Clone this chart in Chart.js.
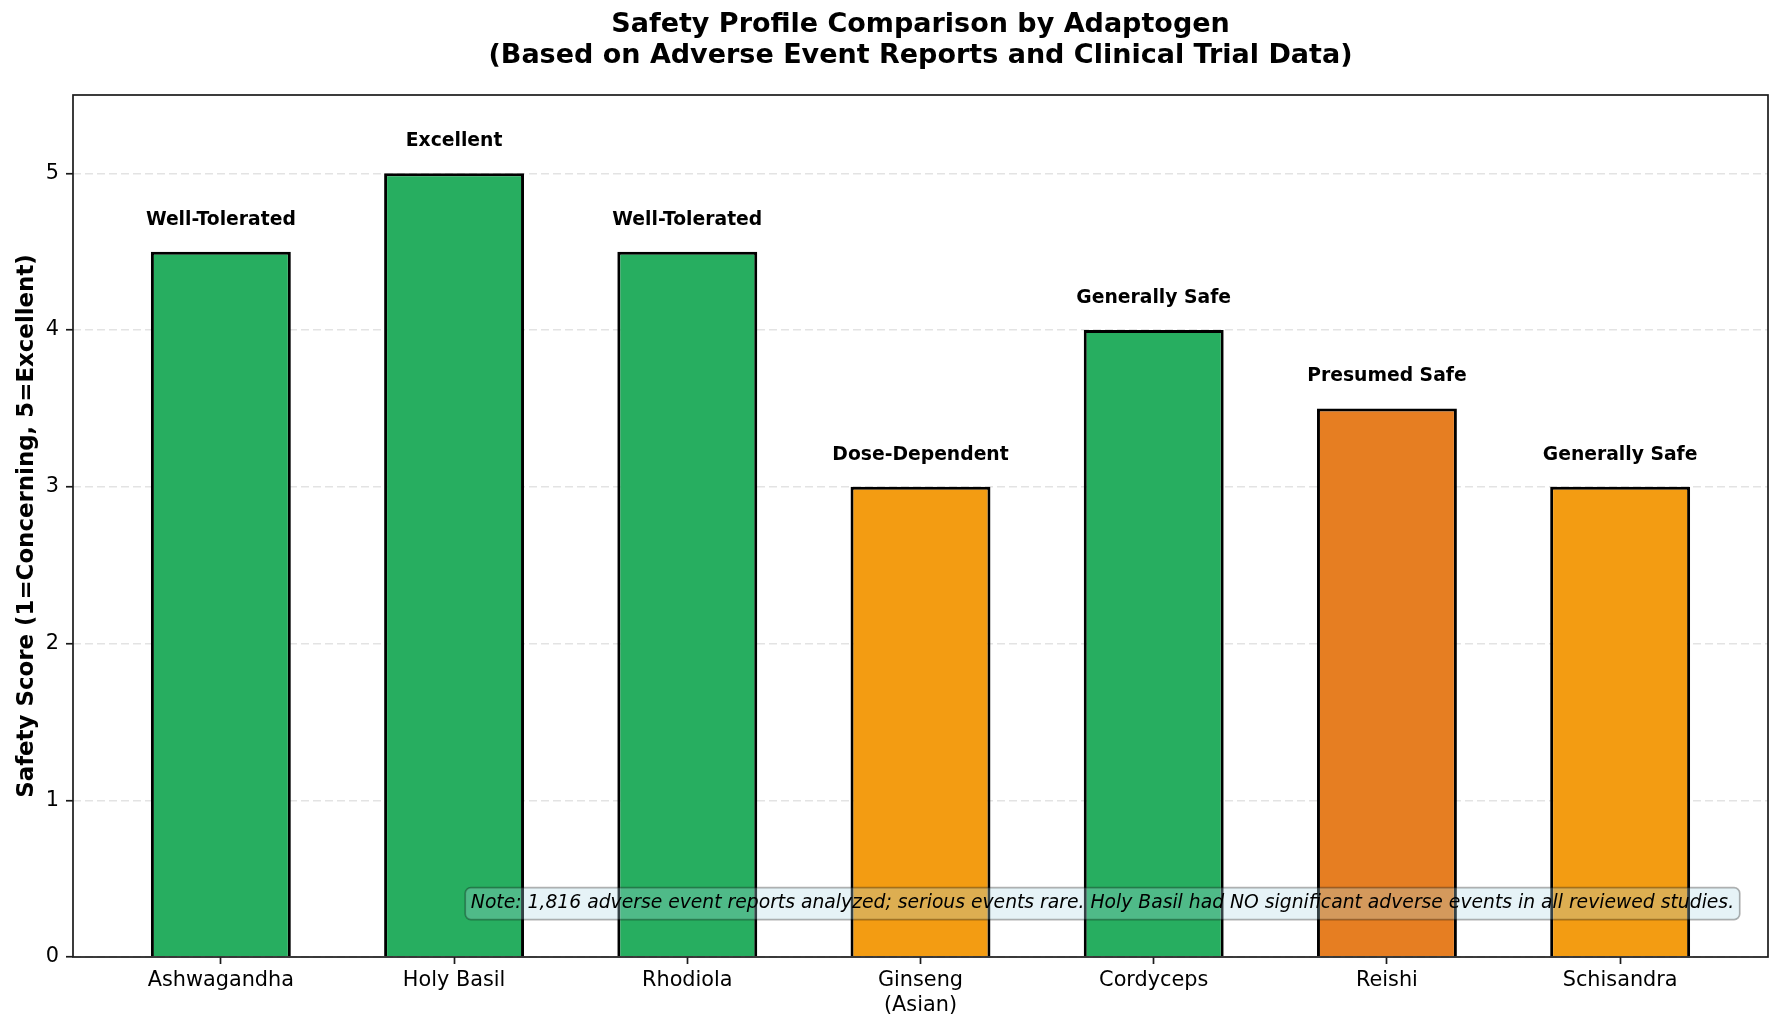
<!DOCTYPE html>
<html>
<head>
<meta charset="utf-8">
<script src="https://cdn.jsdelivr.net/npm/chart.js@4.4.1/dist/chart.umd.min.js"></script>
<style>
  html, body { margin: 0; padding: 0; background: #fff; }
</style>
</head>
<body>
<canvas id="chart" width="1785" height="1030"></canvas>
<script>
// data
const categories = ['Ashwagandha', 'Holy Basil', 'Rhodiola', ['Ginseng', '(Asian)'], 'Cordyceps', 'Reishi', 'Schisandra'];
const safetyScores = [4.5, 5, 4.5, 3, 4, 3.5, 3];
const safetyRatings = ['Well-Tolerated', 'Excellent', 'Well-Tolerated', 'Dose-Dependent', 'Generally Safe', 'Presumed Safe', 'Generally Safe'];
const barColors = ['#27ae60', '#27ae60', '#27ae60', '#f39c12', '#27ae60', '#e67e22', '#f39c12'];
const yTicks = [0, 1, 2, 3, 4, 5];
const titleLines = ['Safety Profile Comparison by Adaptogen', '(Based on Adverse Event Reports and Clinical Trial Data)'];
const yTitle = 'Safety Score (1=Concerning, 5=Excellent)';
const noteText = 'Note: 1,816 adverse event reports analyzed; serious events rare. Holy Basil had NO significant adverse events in all reviewed studies.';

const FONT = '"DejaVu Sans", sans-serif';

/* frame, title, bar labels and the note box (matplotlib-like decorations) */
const decor = {
  id: 'decor',
  afterDatasetsDraw(chart) {
    const { ctx, chartArea: a, scales: { x, y } } = chart;
    ctx.save();
    ctx.fillStyle = '#000';
    ctx.font = 'bold 18.75px ' + FONT;
    ctx.textAlign = 'center';
    ctx.textBaseline = 'bottom';
    safetyScores.forEach((v, i) => {
      ctx.fillText(safetyRatings[i], x.getPixelForValue(i), y.getPixelForValue(v + 0.15) + 1);
    });

    // note box, bottom right of the axes
    const fs = 18.75;
    ctx.font = 'italic ' + fs + 'px ' + FONT;
    const tw = ctx.measureText(noteText).width;
    const right = a.left + 0.98 * (a.right - a.left);
    const bottom = a.bottom - 0.05 * (a.bottom - a.top);
    const pad = 0.3 * fs;
    const th = fs * 1.1;
    const bx = right - tw - pad, by = bottom - th - pad, bw = tw + 2 * pad, bh = th + 2 * pad;
    ctx.beginPath();
    ctx.roundRect(bx, by, bw, bh, pad);
    ctx.fillStyle = 'rgba(173, 216, 230, 0.3)';
    ctx.fill();
    ctx.strokeStyle = 'rgba(0, 0, 0, 0.3)';
    ctx.lineWidth = 1.7;
    ctx.stroke();
    ctx.fillStyle = '#000';
    ctx.textAlign = 'right';
    ctx.textBaseline = 'middle';
    ctx.fillText(noteText, right, bottom - th / 2);
    ctx.restore();
  },
  afterDraw(chart) {
    const { ctx, chartArea: a } = chart;
    ctx.save();
    ctx.strokeStyle = '#1a1a1a';
    ctx.lineWidth = 1.7;
    ctx.strokeRect(a.left, a.top, a.right - a.left, a.bottom - a.top);
    ctx.fillStyle = '#000';
    ctx.font = 'bold 27px ' + FONT;
    ctx.textAlign = 'center';
    ctx.textBaseline = 'middle';
    const cx = (a.left + a.right) / 2;
    ctx.fillText(titleLines[0], cx, 25);
    ctx.fillText(titleLines[1], cx, 56);
    ctx.restore();
  }
};

new Chart(document.getElementById('chart'), {
  type: 'bar',
  data: {
    datasets: [{
      data: safetyScores.map((v, i) => ({ x: i, y: v })),
      backgroundColor: barColors,
      borderColor: '#000',
      borderWidth: 3,
      barPercentage: 0.6,
      categoryPercentage: 1
    }]
  },
  options: {
    responsive: false,
    devicePixelRatio: 1,
    animation: false,
    layout: { padding: { top: 95, right: 17, left: 0, bottom: 0 } },
    plugins: { legend: { display: false }, tooltip: { enabled: false }, title: { display: false } },
    scales: {
      x: {
        type: 'linear',
        offset: false,
        min: -0.634,
        max: 6.634,
        afterFit(s) { s.height = 73; },
        afterBuildTicks(s) { s.ticks = categories.map((c, i) => ({ value: i })); },
        ticks: {
          color: '#000',
          font: { family: FONT, size: 20.8 },
          padding: 4,
          autoSkip: false,
          maxRotation: 0,
          callback: (v) => categories[v]
        },
        grid: { offset: false, drawOnChartArea: false, drawTicks: true, tickLength: 7, tickColor: '#1a1a1a', tickWidth: 1.7 },
        border: { display: false }
      },
      y: {
        min: 0,
        max: 5.5,
        afterFit(s) { s.width = 73; },
        afterBuildTicks(s) { s.ticks = yTicks.map(v => ({ value: v })); },
        ticks: { color: '#000', font: { family: FONT, size: 20.8 }, padding: 7 },
        grid: { color: '#e3e3e3', lineWidth: 1.5, tickLength: 7, tickColor: '#1a1a1a', tickWidth: 1.7, tickBorderDash: [] },
        border: { display: false, dash: [8, 4] },
        title: {
          display: true,
          text: yTitle,
          color: '#000',
          font: { family: FONT, size: 22.9, weight: 'bold' },
          padding: { top: 13, bottom: 0 }
        }
      }
    }
  },
  plugins: [decor]
});
</script>
</body>
</html>
